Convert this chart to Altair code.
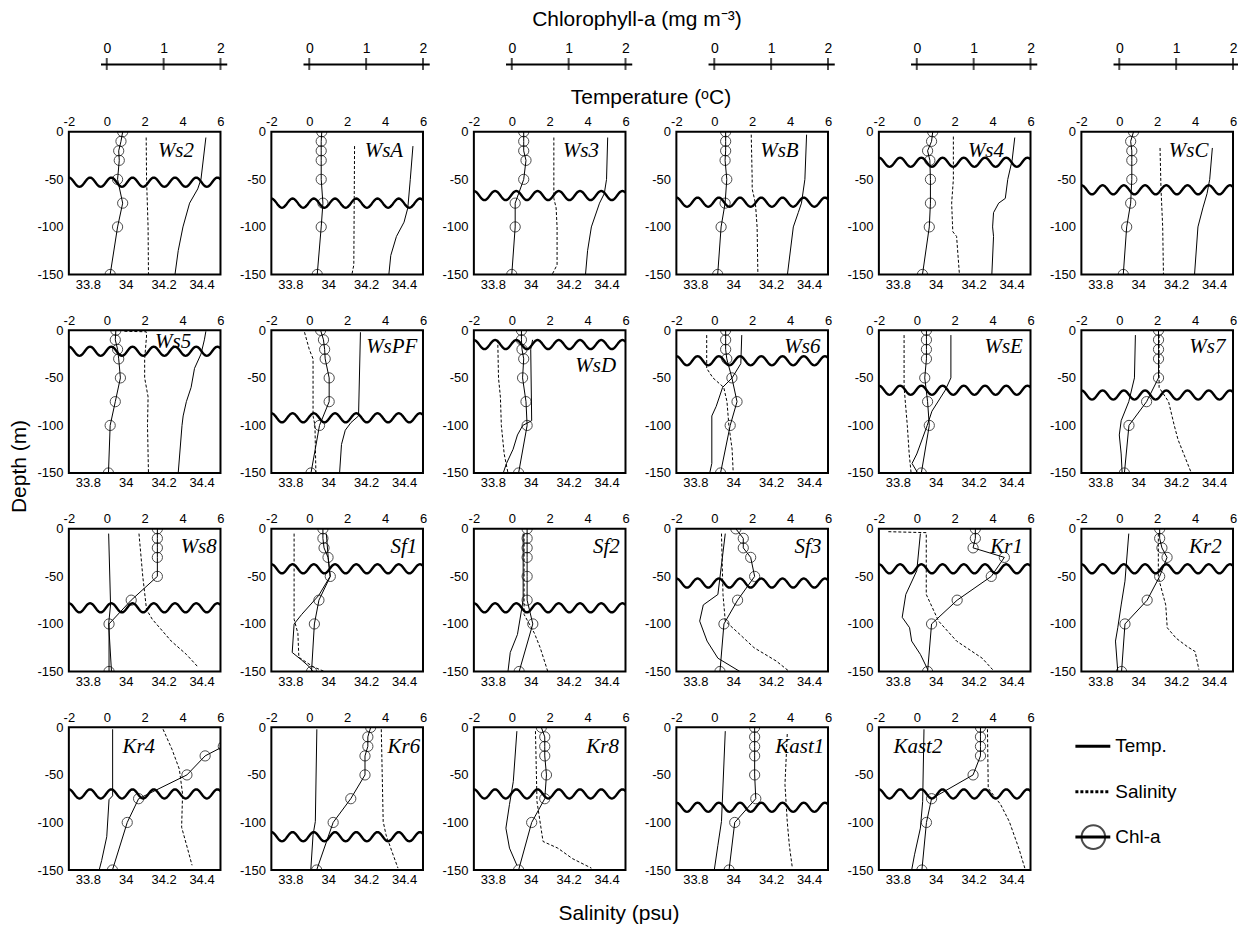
import altair as alt
import pandas as pd

# ---------------- data ----------------
ROWS = [
    ["Ws2", "WsA", "Ws3", "WsB", "Ws4", "WsC"],
    ["Ws5", "WsPF", "WsD", "Ws6", "WsE", "Ws7"],
    ["Ws8", "Sf1", "Sf2", "Sf3", "Kr1", "Kr2"],
    ["Kr4", "Kr6", "Kr8", "Kast1", "Kast2"],
]

CHL_DEPTH = [0, -10, -20, -30, -50, -75, -100, -150]

CHL = {
    "Ws2": [0.28, 0.25, 0.21, 0.22, 0.19, 0.28, 0.19, 0.06],
    "WsA": [0.22, 0.21, 0.21, 0.21, 0.21, 0.24, 0.21, 0.14],
    "Ws3": [0.21, 0.21, 0.21, 0.25, 0.21, 0.06, 0.06, 0.00],
    "WsB": [0.20, 0.20, 0.20, 0.19, 0.22, 0.19, 0.12, 0.06],
    "Ws4": [0.28, 0.26, 0.19, 0.23, 0.24, 0.24, 0.22, 0.10],
    "WsC": [0.25, 0.20, 0.22, 0.22, 0.22, 0.20, 0.13, 0.07],
    "Ws5": [0.16, 0.15, 0.19, 0.21, 0.24, 0.15, 0.06, 0.03],
    "WsPF": [0.20, 0.25, 0.27, 0.28, 0.35, 0.35, 0.18, 0.03],
    "WsD": [0.17, 0.17, 0.18, 0.21, 0.19, 0.25, 0.27, 0.12],
    "Ws6": [0.20, 0.20, 0.20, 0.22, 0.31, 0.40, 0.28, 0.11],
    "WsE": [0.17, 0.17, 0.17, 0.17, 0.14, 0.19, 0.22, 0.08],
    "Ws7": [0.69, 0.69, 0.69, 0.69, 0.69, 0.48, 0.17, 0.09],
    "Ws8": [0.89, 0.89, 0.89, 0.89, 0.89, 0.43, 0.04, 0.04],
    "Sf1": [0.24, 0.24, 0.26, 0.33, 0.37, 0.17, 0.09, 0.04],
    "Sf2": [0.27, 0.27, 0.27, 0.27, 0.27, 0.27, 0.37, 0.13],
    "Sf3": [0.38, 0.51, 0.51, 0.64, 0.71, 0.41, 0.17, 0.10],
    "Kr1": [1.03, 1.03, 0.99, 1.54, 1.31, 0.71, 0.26, 0.19],
    "Kr2": [0.71, 0.71, 0.75, 0.84, 0.71, 0.49, 0.10, 0.04],
    "Kr4": [2.30, 2.30, 2.05, 1.73, 1.41, 0.56, 0.36, 0.10],
    "Kr6": [1.08, 1.03, 1.03, 0.98, 0.98, 0.73, 0.42, 0.13],
    "Kr8": [0.52, 0.58, 0.58, 0.58, 0.61, 0.58, 0.35, 0.12],
    "Kast1": [0.71, 0.71, 0.71, 0.71, 0.71, 0.73, 0.36, 0.26],
    "Kast2": [1.12, 1.12, 1.12, 1.12, 0.99, 0.26, 0.17, 0.09],
}

TEMP_DEPTH = {
    "Ws2": [-6, -50, -60, -75, -100, -125, -150],
    "WsA": [-15, -50, -80, -95, -110, -130, -150],
    "Ws3": [-6, -50, -65, -75, -100, -125, -150],
    "WsB": [-3, -50, -75, -85, -100, -150],
    "Ws4": [-6, -30, -50, -70, -75, -85, -100, -110, -150],
    "WsC": [-17, -50, -65, -80, -100, -150],
    "Ws5": [-1, -10, -25, -40, -60, -75, -90, -100, -150],
    "WsPF": [-2, -90, -97, -105, -120, -150],
    "WsD": [-10, -20, -95, -100, -110, -125, -140, -150],
    "Ws6": [-5, -35, -50, -60, -80, -90, -140, -150],
    "WsE": [-5, -50, -63, -85, -100, -130, -140, -150],
    "Ws7": [-5, -50, -75, -95, -110, -130, -150],
    "Ws8": [-5, -80, -100, -150],
    "Sf1": [-5, -30, -50, -70, -90, -100, -130, -138, -145, -150],
    "Sf2": [-5, -75, -111, -130, -150],
    "Sf3": [-5, -69, -80, -97, -118, -136, -150],
    "Kr1": [-5, -44, -69, -93, -104, -118, -132, -148],
    "Kr2": [-5, -55, -80, -104, -118, -150],
    "Kr4": [-2, -72, -76, -115, -140, -150],
    "Kr6": [-2, -99, -113, -150],
    "Kr8": [-4, -57, -81, -106, -127, -145],
    "Kast1": [-4, -99, -124, -150],
    "Kast2": [-2, -78, -106, -134, -150],
}

TEMP_VAL = {
    "Ws2": [5.23, 4.97, 4.8, 4.37, 4.02, 3.77, 3.6],
    "WsA": [5.47, 5.33, 5.2, 5.0, 4.6, 4.3, 4.2],
    "Ws3": [5.06, 5.0, 4.88, 4.63, 4.2, 4.0, 3.89],
    "WsB": [4.87, 4.78, 4.6, 4.43, 4.17, 3.86],
    "Ws4": [5.17, 5.03, 4.8, 4.67, 4.32, 4.05, 4.0, 4.05, 3.96],
    "WsC": [4.91, 4.77, 4.63, 4.41, 4.15, 3.97],
    "Ws5": [5.23, 5.15, 4.97, 4.63, 4.45, 4.2, 4.03, 3.97, 3.77],
    "WsPF": [2.7, 2.6, 2.2, 1.9, 1.7, 1.6],
    "WsD": [1.1, 1.0, 1.05, 0.58, 0.3, 0.07, -0.28, -0.45],
    "Ws6": [1.45, 1.4, 0.94, 0.44, 0.1, -0.13, -0.13, -0.24],
    "WsE": [1.8, 1.8, 1.5, 0.8, 0.55, 0.0, -0.25, 0.05],
    "Ws7": [0.85, 0.8, 0.5, 0.1, 0.0, 0.1, 0.15],
    "Ws8": [0.1, 0.2, 0.1, 0.25],
    "Sf1": [0.9, 1.0, 1.1, 0.5, -0.4, -0.8, -0.9, -0.4, 0.0, 0.2],
    "Sf2": [0.6, 0.6, 0.3, -0.08, -0.2],
    "Sf3": [0.58, 0.19, -0.58, -0.77, -0.38, 0.19, 1.35],
    "Kr1": [0.19, 0.0, -0.58, -0.77, -0.38, -0.27, 0.19, 0.58],
    "Kr2": [0.5, 0.3, 0.1, -0.08, -0.2, -0.08],
    "Kr4": [0.31, 0.31, 0.12, 0.0, -0.27, -0.4],
    "Kr6": [0.4, 0.32, 0.2, 0.08],
    "Kr8": [0.27, 0.08, -0.12, -0.31, -0.12, 0.27],
    "Kast1": [0.58, 0.38, 0.19, 0.0],
    "Kast2": [0.38, 0.31, 0.19, -0.12, -0.27],
}

SAL_DEPTH = {
    "Ws2": [-6, -50, -100, -150],
    "WsA": [-15, -140, -150],
    "Ws3": [-6, -70, -80, -100, -140, -150],
    "WsB": [-3, -50, -60, -75, -100, -150],
    "Ws4": [-5, -50, -75, -95, -105, -110, -150],
    "WsC": [-17, -60, -100, -150],
    "Ws5": [-1, -1.5, -6, -30, -50, -70, -100, -150],
    "WsPF": [-2, -20, -30, -90, -100, -150],
    "WsD": [-10, -50, -70, -100, -130, -150],
    "Ws6": [-5, -40, -50, -60, -75, -100, -125, -150],
    "WsE": [-5, -60, -100, -130, -150],
    "Ws7": [-5, -60, -75, -100, -115, -135, -150],
    "Ws8": [-5, -50, -85, -95, -118, -132, -145],
    "Sf1": [-5, -95, -110, -135, -145, -150],
    "Sf2": [-5, -90, -110, -125, -150],
    "Sf3": [-5, -69, -97, -111, -125, -139, -150],
    "Kr1": [-3, -4, -69, -97, -118, -136, -148],
    "Kr2": [-5, -51, -80, -104, -115, -124, -129, -148],
    "Kr4": [-2, -23, -44, -70, -105, -123, -145],
    "Kr6": [-2, -99, -113, -131, -148],
    "Kr8": [-4, -78, -120, -127, -138, -148],
    "Kast1": [-7, -60, -99, -124, -148],
    "Kast2": [-2, -64, -81, -99, -127, -148],
}

SAL_VAL = {
    "Ws2": [34.108, 34.11, 34.118, 34.12],
    "WsA": [34.139, 34.135, 34.125],
    "Ws3": [34.122, 34.122, 34.134, 34.139, 34.139, 34.113],
    "WsB": [34.095, 34.1, 34.1, 34.117, 34.126, 34.13],
    "Ws4": [34.093, 34.093, 34.084, 34.088, 34.09, 34.11, 34.125],
    "WsC": [34.115, 34.12, 34.129, 34.133],
    "Ws5": [33.993, 34.108, 34.11, 34.1, 34.1, 34.118, 34.115, 34.12],
    "WsPF": [33.875, 33.9, 33.92, 33.92, 33.93, 33.935],
    "WsD": [33.826, 33.83, 33.84, 33.845, 33.86, 33.88],
    "Ws6": [33.86, 33.86, 33.893, 33.95, 33.967, 33.977, 33.994, 34.0],
    "WsE": [33.833, 33.833, 33.85, 33.86, 33.87],
    "Ws7": [34.11, 34.11, 34.16, 34.19, 34.21, 34.25, 34.28],
    "Ws8": [34.07, 34.09, 34.11, 34.14, 34.24, 34.32, 34.38],
    "Sf1": [33.82, 33.82, 33.84, 33.845, 33.92, 33.98],
    "Sf2": [33.965, 33.965, 34.02, 34.05, 34.09],
    "Sf3": [33.938, 33.946, 33.958, 34.035, 34.11, 34.227, 34.296],
    "Kr1": [33.75, 33.95, 33.95, 34.015, 34.11, 34.245, 34.3],
    "Kr2": [34.106, 34.106, 34.145, 34.153, 34.2, 34.26, 34.3, 34.32],
    "Kr4": [34.197, 34.244, 34.283, 34.3, 34.295, 34.32, 34.35],
    "Kr6": [34.28, 34.29, 34.305, 34.337, 34.368],
    "Kr8": [34.025, 34.033, 34.065, 34.143, 34.22, 34.32],
    "Kast1": [34.285, 34.273, 34.285, 34.296, 34.312],
    "Kast2": [34.273, 34.277, 34.342, 34.388, 34.438, 34.47],
}

# mixed layer depth (wavy line), m
MLD = {
    "Ws2": -53, "WsA": -75, "Ws3": -67, "WsB": -74, "Ws4": -32, "WsC": -61,
    "Ws5": -22, "WsPF": -92, "WsD": -15, "Ws6": -32, "WsE": -63, "Ws7": -68,
    "Ws8": -83, "Sf1": -42, "Sf2": -83, "Sf3": -57, "Kr1": -42, "Kr2": -42,
    "Kr4": -70, "Kr6": -115, "Kr8": -70, "Kast1": -84, "Kast2": -70,
}

# station label anchor (right edge, in temperature units) and depth
LABEL_X = {
    "Ws2": 4.6, "WsA": 4.95, "Ws3": 4.6, "WsB": 4.45, "Ws4": 4.6, "WsC": 4.7,
    "Ws5": 4.45, "WsPF": 5.7, "WsD": 5.5, "Ws6": 5.6, "WsE": 5.6, "Ws7": 5.6,
    "Ws8": 5.8, "Sf1": 5.7, "Sf2": 5.7, "Sf3": 5.65, "Kr1": 5.6, "Kr2": 5.4,
    "Kr4": 2.55, "Kr6": 5.85, "Kr8": 5.65, "Kast1": 5.8, "Kast2": 1.35,
}
LABEL_D = {
    "Ws2": -20, "WsA": -20, "Ws3": -20, "WsB": -20, "Ws4": -20, "WsC": -20,
    "Ws5": -12, "WsPF": -18, "WsD": -37, "Ws6": -18, "WsE": -18, "Ws7": -18,
    "Ws8": -19, "Sf1": -19, "Sf2": -19, "Sf3": -19, "Kr1": -19, "Kr2": -19,
    "Kr4": -21, "Kr6": -21, "Kr8": -21, "Kast1": -21, "Kast2": -21,
}

CHL_TICKS = [0, 1, 2]
TEMP_TICKS = [-2, 0, 2, 4, 6]
SAL_TICKS = [33.8, 34, 34.2, 34.4]
DEPTH_TICKS = [0, -50, -100, -150]
LEGEND_LABELS = ["Temp.", "Salinity", "Chl-a"]

# ---------------- layout ----------------
W, H = 152, 143
CHL_H = 12
COL_SP, ROW_SP = 51, 56
FONT = "Liberation Sans"
TITLE_SIZE = 21

Y_ENC = alt.Y(
    "d:Q",
    scale=alt.Scale(domain=[-150, 0], nice=False, zero=False),
    axis=alt.Axis(values=DEPTH_TICKS, labelExpr="'' + datum.value", title=None,
                  labelPadding=6),
)
T_SCALE = alt.Scale(domain=[-2, 6], nice=False, zero=False)
T_AXIS = alt.Axis(orient="top", values=TEMP_TICKS, labelExpr="'' + datum.value",
                  title=None, labelPadding=3)


def panel(name):
    sal_df = pd.DataFrame({"d": SAL_DEPTH[name], "s": SAL_VAL[name]})
    sal_df["i"] = range(len(sal_df))
    tmp_df = pd.DataFrame({"d": TEMP_DEPTH[name], "t": TEMP_VAL[name]})
    tmp_df["i"] = range(len(tmp_df))
    chl_df = pd.DataFrame({"d": CHL_DEPTH, "chl": CHL[name]})
    chl_df["i"] = range(len(chl_df))
    lab_df = pd.DataFrame({"t": [LABEL_X[name]], "d": [LABEL_D[name]], "name": [name]})

    tx = alt.X("t:Q", scale=T_SCALE, axis=T_AXIS)

    sal = alt.Chart(sal_df).mark_line(
        color="black", strokeWidth=1, strokeDash=[3, 2], clip=True
    ).encode(
        x=alt.X("s:Q", scale=alt.Scale(domain=[33.7, 34.5], nice=False, zero=False),
                axis=alt.Axis(orient="bottom", values=SAL_TICKS, format="~g",
                              title=None, labelPadding=4)),
        y=Y_ENC,
        order="i:Q",
    )
    temp = alt.Chart(tmp_df).mark_line(color="black", strokeWidth=1, clip=True).encode(
        x=tx, y=Y_ENC, order="i:Q")
    chl_base = alt.Chart(chl_df).transform_calculate(t="datum.chl * 3")
    chl_line = chl_base.mark_line(color="black", strokeWidth=1, clip=True).encode(
        x=tx, y=Y_ENC, order="i:Q")
    chl_pts = chl_base.mark_point(shape="circle", filled=False, color="black",
                                  size=105, strokeWidth=1, clip=True).encode(x=tx, y=Y_ENC)
    wave = alt.Chart(alt.sequence(-2, 6.02, 0.04, as_="t")).transform_calculate(
        d=f"{MLD[name]} + 4.8 * cos(2 * PI * (datum.t + 2) / 1.12)"
    ).mark_line(color="black", strokeWidth=2.4, clip=True).encode(x=tx, y=Y_ENC)
    label = alt.Chart(lab_df).mark_text(
        font="Liberation Serif", fontStyle="italic", fontSize=21, align="right",
        baseline="middle", color="black"
    ).encode(x=tx, y=Y_ENC, text="name:N")

    top = alt.layer(temp, chl_line, chl_pts, wave, label)
    return alt.layer(sal, top).resolve_scale(x="independent").properties(width=W, height=H)


def chl_axis_cell(col):
    df = pd.DataFrame({"c": CHL_TICKS})
    lo, hi = -0.11, 2.11
    sc = alt.Scale(domain=[lo, hi], nice=False, zero=False,
                   range=[W * (3 * lo + 2) / 8, W * (3 * hi + 2) / 8])
    props = dict(width=W, height=CHL_H, view=alt.ViewBackground(stroke="transparent"))
    if col == 2:
        props["title"] = alt.TitleParams(
            "Temperature (ᵒC)", orient="bottom", anchor="middle", font=FONT,
            fontSize=TITLE_SIZE, fontWeight="normal", color="black", offset=11,
            dx=(W + COL_SP) / 2)
    return alt.Chart(df).mark_tick(color="black", thickness=2, size=12).encode(
        x=alt.X("c:Q", scale=sc,
                axis=alt.Axis(orient="top", values=CHL_TICKS, title=None, domain=True,
                              domainColor="black", domainWidth=2, ticks=False,
                              labelPadding=9, labelFontSize=14)),
        y=alt.value(0),
    ).properties(**props)


def legend_cell():
    df = pd.DataFrame({"label": LEGEND_LABELS})
    ysc = alt.Scale(type="point", domain=LEGEND_LABELS, range=[19, 110], padding=0)
    yenc = alt.Y("label:N", scale=ysc, axis=None)
    rules = alt.Chart(df).mark_rule(color="black", strokeWidth=3).encode(
        x=alt.value(-6), x2=alt.value(29), y=yenc,
        strokeDash=alt.StrokeDash("label:N", legend=None,
                                  scale=alt.Scale(domain=LEGEND_LABELS,
                                                  range=[[1, 0], [3, 2], [1, 0]])),
    )
    circ = alt.Chart(df).transform_filter("datum.label == 'Chl-a'").mark_point(
        shape="circle", filled=False, color="black", size=560, strokeWidth=2
    ).encode(x=alt.value(12), y=yenc)
    txt = alt.Chart(df).mark_text(align="left", baseline="middle", font=FONT,
                                  fontSize=19, color="black").encode(
        x=alt.value(34), y=yenc, text="label:N")
    return alt.layer(rules, circ, txt).properties(
        width=W, height=H, view=alt.ViewBackground(stroke="transparent"))


cells = [chl_axis_cell(c) for c in range(6)]
for names in ROWS:
    cells += [panel(n) for n in names]
cells.append(legend_cell())

grid = alt.concat(
    *cells, columns=6, spacing=alt.RowColnumber(row=ROW_SP, column=COL_SP), bounds="flush",
    title=alt.TitleParams("Chlorophyll-a (mg m⁻³)", orient="top", anchor="middle",
                          font=FONT, fontSize=TITLE_SIZE, fontWeight="normal",
                          color="black", offset=10),
)
with_sal = alt.vconcat(
    grid,
    title=alt.TitleParams("Salinity (psu)", orient="bottom", anchor="middle", font=FONT,
                          fontSize=TITLE_SIZE, fontWeight="normal", color="black",
                          offset=15, dx=-18),
)
chart = alt.hconcat(
    with_sal,
    title=alt.TitleParams("Depth (m)", orient="left", anchor="middle", font=FONT,
                          fontSize=TITLE_SIZE, fontWeight="normal", color="black", offset=6),
).properties(padding=0, background="white").configure_view(
    stroke="black", strokeWidth=2
).configure_axis(
    labelFont=FONT, labelFontSize=13, labelColor="black", grid=False, domain=False,
    ticks=False, labelFlush=False, labelOverlap=False,
)

chart.save("out.html", embed_options={"renderer": "svg", "actions": False})
